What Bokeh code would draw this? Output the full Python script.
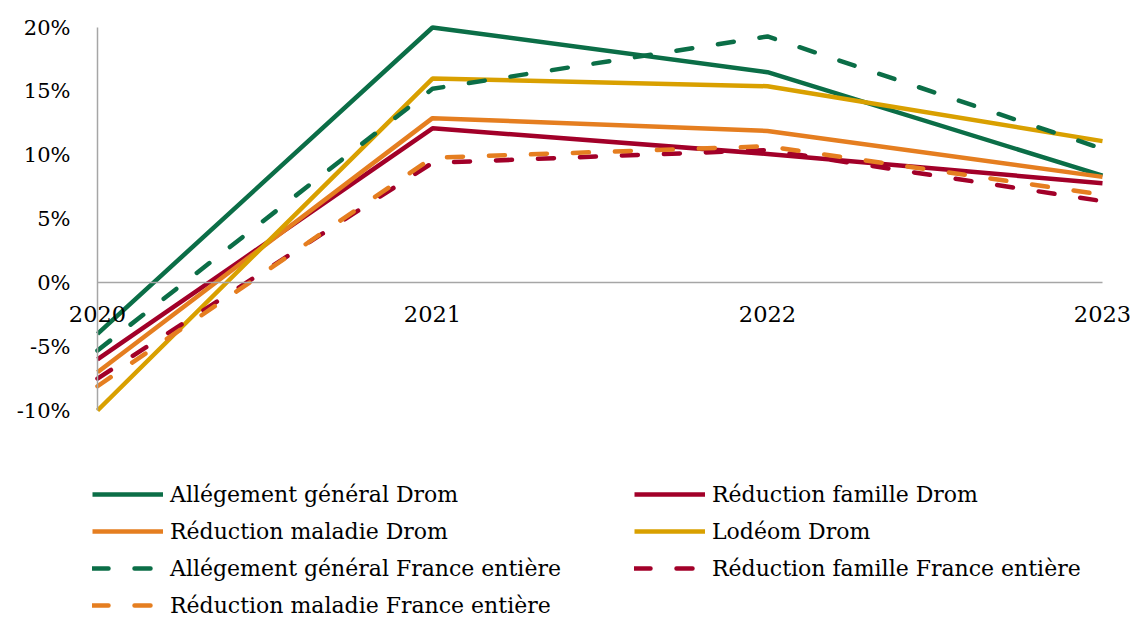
from bokeh.plotting import figure
from bokeh.models import (Range1d, FixedTicker, PrintfTickFormatter, Legend, LegendItem,
                          CustomJSTickFormatter)
from bokeh.embed import file_html
from bokeh.resources import INLINE

# ---- data (percent change) ----
years = [2020, 2021, 2022, 2023]
allegement_general_drom = [-4.0, 20.0, 16.5, 8.4]
reduction_famille_drom = [-6.0, 12.1, 10.1, 7.8]
reduction_maladie_drom = [-7.0, 12.9, 11.9, 8.3]
lodeom_drom = [-10.0, 16.0, 15.4, 11.1]
allegement_general_fe = [-5.3, 15.2, 19.3, 10.5]
reduction_famille_fe = [-7.5, 9.4, 10.4, 6.4]
reduction_maladie_fe = [-8.1, 9.8, 10.7, 6.9]
y_ticks = [-10, -5, 0, 5, 10, 15, 20]

GREEN = "#0B6E47"
RED = "#A20029"
ORANGE = "#E57E20"
GOLD = "#D9A000"
AXIS = "#A6A6A6"
FONT = "DejaVu Serif"

series = [
    ("Allégement général Drom", allegement_general_drom, GREEN, "solid"),
    ("Réduction famille Drom", reduction_famille_drom, RED, "solid"),
    ("Réduction maladie Drom", reduction_maladie_drom, ORANGE, "solid"),
    ("Lodéom Drom", lodeom_drom, GOLD, "solid"),
    ("Allégement général France entière", allegement_general_fe, GREEN, "16 26"),
    ("Réduction famille France entière", reduction_famille_fe, RED, "16 26"),
    ("Réduction maladie France entière", reduction_maladie_fe, ORANGE, "16 26"),
]

# the frame fills the whole canvas (axes are drawn at fixed data locations),
# so that tick labels and the legend below the curves are not clipped
p = figure(width=1133, height=620,
           x_range=Range1d(2019.71045, 2023.09254), y_range=Range1d(-26.449, 22.115),
           output_backend="svg", toolbar_location=None,
           min_border_left=0, min_border_right=0, min_border_top=0, min_border_bottom=0)
p.outline_line_color = None
p.grid.grid_line_color = None
p.background_fill_color = "white"

ya = p.yaxis[0]
ya.fixed_location = years[0]
ya.ticker = FixedTicker(ticks=y_ticks)
ya.formatter = PrintfTickFormatter(format="%d%%")
ya.major_tick_line_color = None
ya.minor_tick_line_color = None
ya.axis_line_color = AXIS
ya.axis_line_width = 1.5
ya.bounds = (y_ticks[0], y_ticks[-1])
ya.major_label_standoff = 21
ya.major_label_text_font = FONT
ya.major_label_text_font_size = "21px"
ya.major_label_text_color = "black"

xa = p.xaxis[0]
xa.fixed_location = 0
xa.ticker = FixedTicker(ticks=years)
xa.formatter = CustomJSTickFormatter(code="return String(tick)")
xa.major_tick_line_color = None
xa.minor_tick_line_color = None
xa.axis_line_color = AXIS
xa.axis_line_width = 1.5
xa.bounds = (years[0], years[-1])
xa.major_label_standoff = 17
xa.major_label_text_font = FONT
xa.major_label_text_font_size = "22.5px"
xa.major_label_text_color = "black"

renderers = {}
for name, vals, color, dash in series:
    cap = "butt" if dash == "solid" else "round"
    r = p.line(years, vals, line_color=color, line_width=4.5, line_dash=dash, line_cap=cap)
    renderers[name] = r

def make_legend(names, loc):
    return Legend(items=[LegendItem(label=n, renderers=[renderers[n]]) for n in names],
                  location=loc, orientation="vertical", glyph_width=71, glyph_height=30,
                  label_height=30, label_standoff=7, spacing=7, padding=0, margin=0,
                  border_line_color=None, background_fill_alpha=0,
                  label_text_font=FONT, label_text_font_size="22px",
                  label_text_color="black")

col1 = ["Allégement général Drom", "Réduction maladie Drom",
        "Allégement général France entière", "Réduction maladie France entière"]
col2 = ["Réduction famille Drom", "Lodéom Drom", "Réduction famille France entière"]
p.add_layout(make_legend(col1, (92, 0)))
p.add_layout(make_legend(col2, (634, 37)))

open("out.html", "w").write(file_html(p, INLINE))
